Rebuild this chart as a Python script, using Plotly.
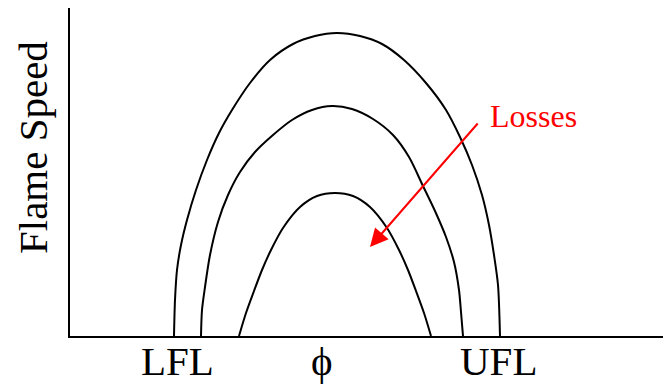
import plotly.graph_objects as go

# Equivalence ratio (phi) and flame speed, arbitrary units
phi_outer = [104, 105, 107, 111, 117, 126, 137, 149, 162, 180, 200, 223, 245, 267,
             290, 312, 334, 356, 376, 390, 402, 412, 419, 424, 428, 430]
speed_outer = [0, 36, 66, 91, 116, 146, 176, 203, 226, 253, 276, 292, 300, 303,
               300, 292, 276, 253, 226, 199, 171, 141, 111, 81, 51, 0]

phi_middle = [131, 132, 135, 140, 148, 158, 170, 185, 203, 222, 242, 262,
              282, 303, 323, 339, 353, 365, 376, 384, 389, 391, 393]
speed_middle = [0, 26, 49, 81, 114, 141, 164, 184, 201, 216, 226, 230,
                227, 217, 201, 179, 150, 125, 99, 74, 46, 24, 0]

phi_inner = [169, 176, 184, 192, 201, 213, 230, 247, 265, 283, 300, 317,
             329, 338, 346, 354, 361]
speed_inner = [0, 23, 45, 66, 86, 108, 129, 140, 143, 140, 129, 108,
               86, 66, 45, 23, 0]

tick_vals = [107, 252, 428]
tick_text = ["LFL", "ϕ", "UFL"]

serif = "Liberation Serif, Times New Roman, serif"

fig = go.Figure()
for xs, ys in [(phi_outer, speed_outer), (phi_middle, speed_middle), (phi_inner, speed_inner)]:
    fig.add_trace(go.Scatter(
        x=xs, y=ys, mode="lines",
        line=dict(color="black", width=2, shape="spline", smoothing=0.8),
        showlegend=False, hoverinfo="skip"
    ))

# red "Losses" arrow pointing inward
fig.add_annotation(
    x=300, y=89, ax=409, ay=214, xref="x", yref="y", axref="x", ayref="y",
    text="", showarrow=True, arrowhead=2, arrowsize=1.8, arrowwidth=2,
    arrowcolor="red"
)
fig.add_annotation(
    x=418, y=220, xref="x", yref="y", text="Losses", showarrow=False,
    xanchor="left", yanchor="middle",
    font=dict(family=serif, size=32, color="red")
)
# y title as annotation, kept inside the left edge of the figure
fig.add_annotation(
    x=-62 / 601, y=0.573, xref="paper", yref="paper", text="Flame Speed",
    showarrow=False, textangle=-90, xanchor="left", yanchor="middle",
    font=dict(family=serif, size=41, color="black")
)

# axis labels under the phi axis
for xv, label in zip(tick_vals, tick_text):
    fig.add_annotation(
        x=xv, y=-0.076, xref="x", yref="paper", text=label, showarrow=False,
        xanchor="center", yanchor="middle",
        font=dict(family=serif, size=41, color="black")
    )

fig.update_xaxes(
    range=[0, 601], showgrid=False, zeroline=False, showline=True,
    linecolor="black", linewidth=2, ticks="", showticklabels=False,
    automargin=False
)
fig.update_yaxes(
    range=[0, 328], showgrid=False, zeroline=False, showline=True,
    linecolor="black", linewidth=2, ticks="", showticklabels=False,
    automargin=False
)
# the page body adds 8px around the plot, so the figure is 8px smaller
fig.update_layout(
    width=663, height=382,
    margin=dict(l=62, r=0, t=0, b=54),
    plot_bgcolor="white", paper_bgcolor="white"
)

fig.write_html("out.html")
